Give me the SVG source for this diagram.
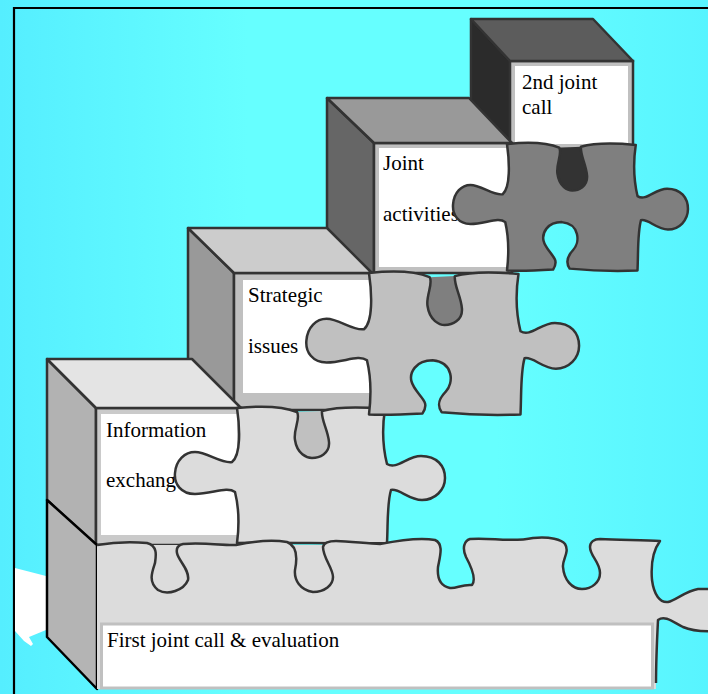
<svg xmlns="http://www.w3.org/2000/svg" width="708" height="694" viewBox="0 0 708 694">
<defs>
<linearGradient id="bg" x1="0" y1="0" x2="1" y2="0">
<stop offset="0" stop-color="#55eeff"/>
<stop offset="0.35" stop-color="#66ffff"/>
<stop offset="0.7" stop-color="#66ffff"/>
<stop offset="1" stop-color="#58f4ff"/>
</linearGradient>
<path id="pieceB" vector-effect="non-scaling-stroke" d="M0,0 C20,-2 45,-2 60,4 C64,10 56,22 58,32 C60,46 70,50 75,50 C82,50 93,46 92,34 C91,22 84,12 85,3 C100,-1 125,-1 148,1 C145,20 146,40 150,56 C160,62 170,48 184,48 C200,48 208,58 208,70 C208,82 198,92 185,92 C172,92 162,80 154,82 C150,95 151,115 150,136 C125,137 95,136 72,134 C67,127 69,121 76,114 C84,106 84,86 63,84 C46,84 40,96 42,104 C44,112 52,118 55,124 C57,128 55,132 53,135 C35,136 15,137 0,136 C2,120 2,100 -2,84 C-10,78 -25,86 -42,86 C-56,86 -63,76 -62,65 C-61,52 -52,44 -42,44 C-30,44 -15,56 -5,54 C4,47 3,20 0,0 Z"/>
<path id="pieceF" vector-effect="non-scaling-stroke" d="M0,0 C20,-2 45,-2 60,4 C64,10 56,22 58,32 C60,46 70,50 75,50 C82,50 93,46 92,34 C91,22 84,12 85,3 C100,-1 125,-1 148,1 C145,20 146,40 150,56 C160,62 170,48 184,48 C200,48 208,58 208,70 C208,82 198,92 185,92 C172,92 162,80 154,82 C150,95 151,115 150,135 C100,136 45,134 0,135 C2,120 2,100 -2,84 C-10,78 -25,86 -42,86 C-56,86 -63,76 -62,65 C-61,52 -52,44 -42,44 C-30,44 -15,56 -5,54 C4,47 3,20 0,0 Z"/>
<path id="notch" d="M60,4 C64,10 56,22 58,32 C60,46 70,50 75,50 C82,50 93,46 92,34 C91,22 84,12 85,3 Z"/>
</defs>
<style>
.edge{stroke:#333;stroke-width:2.5;stroke-linejoin:round}
.pz{stroke:#333;stroke-width:2.5;stroke-linejoin:round}
.band{fill:#c0c0c0;stroke:#333;stroke-width:2.5}
.white{fill:#fff}
text{font-size:21px;fill:#000}
</style>
<rect x="0" y="0" width="708" height="694" fill="url(#bg)"/>
<path d="M14,694 V8 H708" fill="none" stroke="#000" stroke-width="2.2"/>
<polygon points="15,568 46,576 46,630 29,637 33,644 31,646 24,641 15,631" fill="#fff"/>

<g id="cube-2nd-joint-call" font-family="Liberation Serif, Times New Roman, serif">
<polygon class="edge" points="471,19 510,61 510,150 471,108" fill="#2b2b2b"/>
<rect class="band" x="510" y="61" width="123" height="88"/>
<rect class="white" x="515" y="66" width="113" height="78"/>
<polygon class="edge" points="471,19 593,19 633,61 510,61" fill="#5c5c5c"/>
<text x="522" y="89">2nd joint</text>
<text x="522" y="114">call</text>
</g>

<g id="cube-joint-activities" font-family="Liberation Serif, Times New Roman, serif">
<polygon class="edge" points="327,98 374,143 374,276 327,232" fill="#666"/>
<rect class="band" x="374" y="143" width="138" height="130"/>
<rect class="white" x="379" y="148" width="129" height="119"/>
<polygon class="edge" points="327,98 469,98 512,143 374,143" fill="#999"/>
<text x="383" y="170">Joint</text>
<text x="383" y="221">activities</text>
</g>

<g id="piece-2nd-joint-call" transform="translate(507,144) scale(0.87,0.93)">
<use href="#notch" fill="#333"/>
<use href="#pieceB" class="pz" fill="#7f7f7f"/>
</g>

<g id="cube-strategic-issues" font-family="Liberation Serif, Times New Roman, serif">
<polygon class="edge" points="188,228 234,273 234,410 188,366" fill="#999"/>
<rect class="band" x="234" y="273" width="138" height="137"/>
<rect class="white" x="243" y="280" width="127" height="113"/>
<polygon class="edge" points="188,228 327,228 372,273 234,273" fill="#ccc"/>
<text x="248" y="302">Strategic</text>
<text x="248" y="353">issues</text>
</g>

<g id="cube-information-exchange" font-family="Liberation Serif, Times New Roman, serif">
<polygon class="edge" points="47,359 96,408 96,545 47,500" fill="#b2b2b2"/>
<rect class="band" x="96" y="408" width="145" height="137" style="fill:#cacaca"/>
<rect class="white" x="101" y="414" width="136" height="121"/>
<polygon class="edge" points="47,359 192,359 241,408 96,408" fill="#e4e4e4"/>
<text x="106" y="437">Information</text>
<text x="106" y="487">exchang</text>
</g>

<g id="cube-first-joint-call">
<polygon points="47,500 97,545 97,689 47,637" fill="#b4b4b4" stroke="#000" stroke-width="2.5" stroke-linejoin="round"/>
</g>

<rect x="97" y="545" width="248" height="55" fill="#dcdcdc"/>

<g id="piece-information-exchange" transform="translate(237,408)">
<use href="#notch" fill="#c0c0c0"/>
<use href="#pieceF" class="pz" fill="#dcdcdc"/>
</g>

<g id="piece-strategic-issues" transform="translate(369,273) scale(1.01,1.04)">
<use href="#notch" fill="#7f7f7f"/>
<use href="#pieceB" class="pz" fill="#c0c0c0"/>
</g>

<g id="strip-first-joint-call" font-family="Liberation Serif, Times New Roman, serif">
<path fill="#dcdcdc" d="M97,545 C115,542 135,542 147,543 C158,546 156,556 155,563 C152,572 148,582 158,590 C168,596 184,590 188,580 C190,570 178,560 177,553 C176,548 178,545 183,544 C205,542 225,546 236,545 C255,541 275,540 287,542 C298,546 297,560 295,570 C294,580 300,590 313,592 C325,592 333,585 333,577 C333,568 323,558 323,547 C324,542 330,541 336,541 C350,541 368,544 380,544 C400,540 420,537 435,540 C444,544 440,556 438,567 C437,578 440,586 450,588 C456,589 462,584 472,585 C476,580 473,570 466,557 C462,548 464,541 470,539 C490,537 510,543 533,538 C550,536 562,540 565,544 C570,552 562,560 563,567 C564,580 572,589 582,589 C592,589 600,582 600,573 C600,562 590,556 590,547 C590,542 594,539 600,539 C620,540 645,540 660,541 C652,552 651,568 652,580 C654,595 660,603 668,602 C676,600 686,591 698,589 L720,589 L720,631 C705,632 692,631 683,627 C673,622 665,615 658,620 C657,640 656,665 656,689 L97,689 Z"/>
<path fill="none" stroke="#333" stroke-width="2.5" stroke-linejoin="round" d="M97,545 C115,542 135,542 147,543 C158,546 156,556 155,563 C152,572 148,582 158,590 C168,596 184,590 188,580 C190,570 178,560 177,553 C176,548 178,545 183,544 C205,542 225,546 236,545 C255,541 275,540 287,542 C298,546 297,560 295,570 C294,580 300,590 313,592 C325,592 333,585 333,577 C333,568 323,558 323,547 C324,542 330,541 336,541 C350,541 368,544 380,544 C400,540 420,537 435,540 C444,544 440,556 438,567 C437,578 440,586 450,588 C456,589 462,584 472,585 C476,580 473,570 466,557 C462,548 464,541 470,539 C490,537 510,543 533,538 C550,536 562,540 565,544 C570,552 562,560 563,567 C564,580 572,589 582,589 C592,589 600,582 600,573 C600,562 590,556 590,547 C590,542 594,539 600,539 C620,540 645,540 660,541 C652,552 651,568 652,580 C654,595 660,603 668,602 C676,600 686,591 698,589 L720,589 M720,631 C705,632 692,631 683,627 C673,622 665,615 658,620 C657,640 656,665 656,683"/>
<rect x="101.5" y="624" width="551" height="64" fill="#fff" stroke="#c0c0c0" stroke-width="3"/>
<text x="107" y="647">First joint call &amp; evaluation</text>
</g>
</svg>
